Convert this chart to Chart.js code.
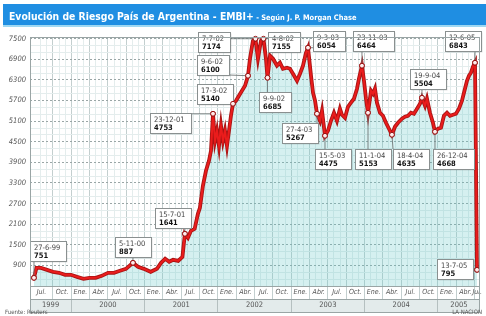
<!DOCTYPE html>
<html><head><meta charset="utf-8">
<script src="https://cdn.jsdelivr.net/npm/chart.js@4.4.1/dist/chart.umd.min.js"></script>
<style>html,body{margin:0;padding:0;background:#fff}</style>
</head><body>
<canvas id="c" width="486" height="316"></canvas>
<script>
const titulo = 'Evolución de Riesgo País de Argentina - EMBI+';
const subtitulo = ' - Según J. P. Morgan Chase';
const fuente = 'Fuente: Reuters';
const firma = 'LA NACION';

// months elapsed since 1 July 1999
const meses = [-0.1,0.31,1.05,2.03,3.01,4.0,4.98,5.96,6.94,8.0,9.0,10.0,11.0,12.01,13.0,13.98,14.96,16.1,16.92,17.9,19.0,20.03,20.7,21.37,22.03,22.68,23.5,24.2,24.6,25.1,25.6,26.2,26.73,27.06,27.55,28.05,28.54,28.87,29.2,29.53,29.85,30.18,30.51,30.83,31.16,31.49,31.82,32.14,32.47,32.96,33.45,33.94,34.44,34.93,35.25,35.74,36.15,36.56,37.05,37.46,37.87,38.12,38.53,39.02,39.67,40.16,40.65,41.31,41.8,42.29,42.95,43.44,43.93,44.42,44.75,45.24,45.57,45.9,46.22,46.71,47.04,47.53,48.02,48.51,49.0,49.49,49.98,50.31,50.8,51.29,51.78,52.27,52.77,53.09,53.58,53.91,54.24,54.57,55.06,55.39,55.71,56.04,56.53,57.02,57.51,58.0,58.49,58.98,59.48,60.13,60.62,61.11,61.6,62.09,62.59,63.08,63.4,63.9,64.22,64.71,65.2,65.53,66.02,66.51,67.0,67.5,67.99,68.48,68.97,69.46,69.95,70.44,70.77,71.1,71.42,71.75,72.08,72.41];
// spread in basis points as drawn against the axis
const riesgo = [538,829,829,771,713,684,626,626,567,509,538,538,596,684,684,742,800,975,858,800,713,800,975,1091,1004,1062,1033,1150,1820,1703,1907,1965,2403,2577,3218,3655,3946,4237,5315,4529,4820,4383,4966,4529,4820,4383,4820,5257,5607,5694,5840,5985,6131,6422,6917,7442,7500,6917,7442,7500,6917,6364,7005,6917,6714,6801,6626,6655,6626,6480,6277,6480,6714,7092,7238,6422,5927,5694,5315,5111,5403,4674,4820,5111,5344,5111,5461,5286,5199,5519,5636,5752,6044,6335,6714,6277,5752,5344,5985,5898,6044,5636,5344,5257,5053,4878,4704,4937,5053,5170,5228,5257,5344,5315,5461,5607,5781,5548,5752,5344,5053,4791,4878,4907,5257,5344,5257,5286,5315,5461,5694,6044,6277,6422,6510,6684,6801,771];

const yTicks = [900,1500,2100,2700,3300,3900,4500,5100,5700,6300,6900,7500];
const trimestres = ['Jul.','Oct.','Ene.','Abr.','Jul.','Oct.','Ene.','Abr.','Jul.','Oct.','Ene.','Abr.','Jul.','Oct.','Ene.','Abr.','Jul.','Oct.','Ene.','Abr.','Jul.','Oct.','Ene.','Abr.','Jul.'];
const anios = ['1999','2000','2001','2002','2003','2004','2005'];

const hitosFecha = ['27-6-99','5-11-00','15-7-01','23-12-01','17-3-02','9-6-02','7-7-02','4-8-02','9-9-02','9-3-03','27-4-03','15-5-03','23-11-03','11-1-04','18-4-04','19-9-04','26-12-04','12-6-05','13-7-05'];
const hitosValor = ['751','887','1641','4753','5140','6100','7174','7155','6685','6054','5267','4475','6464','5153','4635','5504','4668','6843','795'];
const hitosIndice = [0,17,28,38,48,53,56,59,61,74,78,81,94,97,106,116,121,136,137];
// callout box offsets (px) relative to the marked point
const hitosCaja = [[-4,-37],[-18,-26],[-30,-26],[-63,-1],[-36,-20],[-51,-21],[-57,-7],[5,-7],[-8,14],[5,-17],[-35,9],[-10,13],[-9,-35],[-13,36],[1,14],[-12,-29],[-2,17],[-30,-32],[-40,-11]];

const X_MIN = -0.75, X_MAX = 72.9;
const NARROW = "'Liberation Sans Narrow','DejaVu Sans Condensed','Arial Narrow',sans-serif";

function ticksCeldas(min, max, bounds, labels){
  const t = [];
  const edges = [min].concat(bounds, [max]);
  for (let k = 0; k < labels.length; k++) t.push({value:(edges[k]+edges[k+1])/2, lbl:labels[k]});
  bounds.forEach(b => t.push({value:b}));
  return t.sort((a,b)=>a.value-b.value);
}
const quarterBounds = trimestres.slice(1).map((_,i)=>3*(i+1));
const yearBounds = anios.slice(1).map((_,i)=>6+12*i);

const data = meses.map((m,i)=>({x:m, y:riesgo[i]}));

const decor = {
  id:'decor',
  beforeDraw(chart){
    const ctx = chart.ctx, ca = chart.chartArea;
    ctx.save();
    ctx.fillStyle = '#fff'; ctx.fillRect(0,0,chart.width,chart.height);
    ctx.fillStyle = '#1f8ee2'; ctx.fillRect(3,4,chart.width-3,21);
    ctx.fillStyle = '#9fd8f2'; ctx.fillRect(3,25,chart.width-3,2);
    ctx.fillStyle = '#fff'; ctx.textBaseline = 'alphabetic';
    ctx.font = 'bold 13px ' + NARROW;
    let w = ctx.measureText(titulo).width;
    const fs = 13*245/w;
    ctx.font = 'bold ' + fs.toFixed(2) + 'px ' + NARROW;
    ctx.fillText(titulo, 9, 19.5);
    w = ctx.measureText(titulo).width;
    ctx.font = 'bold ' + (fs*0.72).toFixed(2) + 'px ' + NARROW;
    ctx.fillText(subtitulo, 9 + w, 19.5);
    const ys = chart.scales.xYear;
    ctx.fillStyle = '#e3ebeb';
    ctx.fillRect(ca.left, ys.top, ca.right-ca.left, ys.bottom-ys.top);
    ctx.restore();
  },
  afterDraw(chart){
    const ctx = chart.ctx, ca = chart.chartArea;
    const xs = chart.scales.x, ys = chart.scales.xYear;
    ctx.save();
    ctx.strokeStyle = '#9aa5a5'; ctx.lineWidth = 1;
    ctx.strokeRect(ca.left+0.5, ca.top+0.5, ca.right-ca.left-1, ca.bottom-ca.top);
    ctx.beginPath();
    ctx.moveTo(ca.left, xs.bottom+0.5); ctx.lineTo(ca.right, xs.bottom+0.5);
    ctx.moveTo(ca.left, ys.bottom+0.5); ctx.lineTo(ca.right, ys.bottom+0.5);
    ctx.moveTo(ca.left+0.5, ca.bottom); ctx.lineTo(ca.left+0.5, ys.bottom);
    ctx.moveTo(ca.right-0.5, ca.bottom); ctx.lineTo(ca.right-0.5, ys.bottom);
    ctx.stroke();
    ctx.fillStyle = '#555'; ctx.font = '6px ' + NARROW; ctx.textBaseline = 'alphabetic';
    ctx.textAlign = 'left'; ctx.fillText(fuente, 5, 314);
    ctx.textAlign = 'right'; ctx.fillText(firma, 482, 314);
    ctx.restore();
  },
  afterDatasetsDraw(chart){
    const ctx = chart.ctx;
    const meta = chart.getDatasetMeta(1);
    ctx.save();
    hitosIndice.forEach((idx,k)=>{
      const p = meta.data[idx];
      const px = p.x, py = p.y;
      const fDate = '7.5px ' + NARROW, fVal = 'bold 7.5px ' + NARROW;
      ctx.font = fDate; const w1 = ctx.measureText(hitosFecha[k]).width;
      ctx.font = fVal; const w2 = ctx.measureText(hitosValor[k]).width;
      const bw = Math.round(Math.max(w1,w2) + 10), bh = 20;
      const bx = Math.round(px + hitosCaja[k][0]), by = Math.round(py + hitosCaja[k][1]);
      const lx = Math.min(Math.max(px,bx),bx+bw), ly = Math.min(Math.max(py,by),by+bh);
      ctx.strokeStyle = '#6f7777'; ctx.lineWidth = 0.9;
      ctx.beginPath(); ctx.moveTo(lx,ly); ctx.lineTo(px,py); ctx.stroke();
      ctx.fillStyle = 'rgba(0,0,0,0.12)'; ctx.fillRect(bx+1.5, by+1.5, bw, bh);
      ctx.fillStyle = '#fff'; ctx.fillRect(bx, by, bw, bh);
      ctx.strokeStyle = '#8a9090'; ctx.lineWidth = 1;
      ctx.strokeRect(bx+0.5, by+0.5, bw, bh);
      ctx.textAlign = 'left'; ctx.textBaseline = 'alphabetic';
      ctx.fillStyle = '#444'; ctx.font = fDate; ctx.fillText(hitosFecha[k], bx+4, by+8.5);
      ctx.fillStyle = '#111'; ctx.font = fVal; ctx.fillText(hitosValor[k], bx+4, by+17);
      p.draw(ctx);
    });
    ctx.restore();
  }
};

new Chart(document.getElementById('c'), {
  type:'line',
  data:{datasets:[
    {data, borderColor:'#a81414', borderWidth:3.8, pointRadius:0, tension:0, order:2,
     fill:'start', backgroundColor:'rgba(100,200,200,0.27)'},
    {data, borderColor:'#ea1c1c', borderWidth:2, tension:0, order:1, fill:false,
     pointRadius: c => hitosIndice.includes(c.dataIndex) ? 2.4 : 0,
     pointHoverRadius:0, pointBackgroundColor:'#ffecec', pointBorderColor:'#9a1010', pointBorderWidth:1}
  ]},
  options:{
    responsive:false, animation:false, devicePixelRatio:1,
    layout:{padding:{top:37, right:6, bottom:4, left:0}},
    plugins:{legend:{display:false}, tooltip:{enabled:false}, title:{display:false}},
    scales:{
      x:{type:'linear', position:'bottom', weight:0, min:X_MIN, max:X_MAX,
        afterBuildTicks: s => { s.ticks = ticksCeldas(s.min, s.max, quarterBounds, trimestres); },
        ticks:{autoSkip:false, maxRotation:0, minRotation:0, padding:-11, color:'#555',
          font:{family:NARROW, size:7, style:'italic'}, callback:(v,i,t)=>t[i].lbl||''},
        grid:{color:c => (c.tick && c.tick.lbl) ? 'rgba(0,0,0,0)' : '#c3cfcf', tickLength:13, lineWidth:1},
        border:{display:false},
        afterFit: s => { s.height = 13; }
      },
      xYear:{type:'linear', position:'bottom', weight:1, min:X_MIN, max:X_MAX,
        afterBuildTicks: s => { s.ticks = ticksCeldas(s.min, s.max, yearBounds, anios); },
        ticks:{autoSkip:false, maxRotation:0, minRotation:0, padding:-11, color:'#555',
          font:{family:NARROW, size:7.5}, callback:(v,i,t)=>t[i].lbl||''},
        grid:{drawOnChartArea:false, color:c => (c.tick && c.tick.lbl) ? 'rgba(0,0,0,0)' : '#b5c0c0', tickLength:13},
        border:{display:false},
        afterFit: s => { s.height = 13; }
      },
      xMinor:{type:'linear', position:'bottom', weight:-1, min:X_MIN, max:X_MAX,
        afterBuildTicks: s => { const t=[]; for(let m=1;m<s.max;m++){ if(m%3) t.push({value:m}); } s.ticks=t; },
        ticks:{display:false}, grid:{color:'#e4eded', drawTicks:false}, border:{display:false},
        afterFit: s => { s.height = 0; }
      },
      y:{type:'linear', position:'left', weight:0, min:300, max:7550,
        afterBuildTicks: s => { s.ticks = yTicks.map(v=>({value:v})); },
        ticks:{padding:4, color:'#555', font:{family:NARROW, size:7.5, style:'italic'}, callback: v => String(v)},
        grid:{color:'#9aa6a6', drawTicks:false},
        border:{display:false, dash:[2,2]},
        afterFit: s => { s.width = 30; }
      },
      yMinor:{type:'linear', position:'left', weight:-1, min:300, max:7550,
        afterBuildTicks: s => { const t=[]; for(let v=500;v<7550;v+=200){ if((v-300)%600) t.push({value:v}); } s.ticks=t; },
        ticks:{display:false}, grid:{color:'#e4eded', drawTicks:false}, border:{display:false},
        afterFit: s => { s.width = 0; }
      }
    }
  },
  plugins:[decor]
});
</script>
</body></html>
